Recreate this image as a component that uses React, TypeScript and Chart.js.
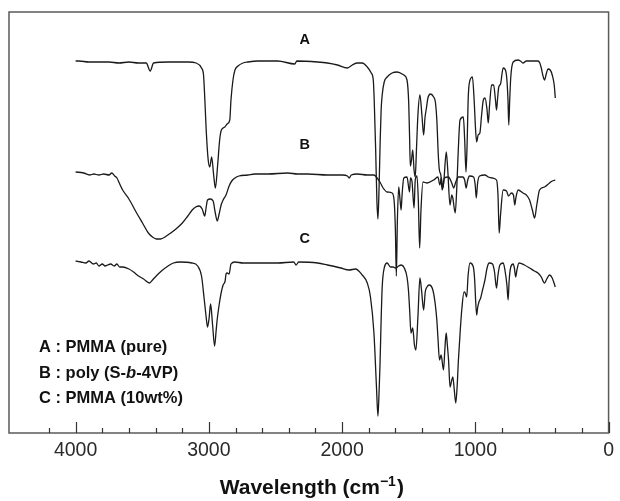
import React, { useEffect, useRef } from 'react';
import { Chart, registerables } from 'chart.js';

Chart.register(...registerables);

// ---- Data (wavenumber in cm-1, offset transmittance in arbitrary units) ----
const A_WN = [4000, 3975, 3900, 3825, 3750, 3675, 3600, 3530, 3470, 3440,
  3415, 3305, 3155, 3095, 3055, 3040, 3030, 3020, 3005, 2993,
  2979, 2964, 2951, 2934, 2919, 2906, 2880, 2863, 2843, 2834,
  2819, 2804, 2781, 2744, 2707, 2632, 2483, 2355, 2340, 2184,
  2110, 2035, 1960, 1923, 1886, 1849, 1811, 1781, 1766, 1759,
  1748, 1739, 1731, 1723, 1714, 1707, 1699, 1684, 1662, 1625,
  1587, 1537, 1513, 1500, 1493, 1488, 1479, 1470, 1460, 1451,
  1442, 1431, 1416, 1401, 1388, 1378, 1367, 1356, 1337, 1313,
  1300, 1289, 1278, 1270, 1259, 1249, 1237, 1218, 1207, 1190,
  1177, 1169, 1151, 1140, 1128, 1115, 1090, 1080, 1070, 1061,
  1054, 1045, 1022, 1009, 998, 990, 979, 966, 953, 940,
  927, 912, 903, 893, 878, 863, 849, 841, 834, 824,
  811, 791, 774, 763, 755, 749, 742, 734, 716, 679,
  662, 642, 617, 580, 530, 516, 505, 494, 481, 468,
  455, 438, 423, 408, 400];
const A_T = [372, 372, 371, 371, 371, 370, 371, 370, 370, 362,
  370, 371, 371, 370, 365, 358, 333, 303, 273, 266,
  276, 258, 245, 268, 293, 303, 306, 309, 313, 333,
  353, 363, 367, 370, 371, 372, 372, 369, 372, 371,
  370, 368, 365, 368, 370, 370, 366, 360, 353, 333,
  283, 233, 214, 243, 293, 323, 338, 351, 356, 360,
  361, 358, 353, 330, 293, 267, 273, 283, 263, 256,
  283, 318, 338, 318, 298, 315, 325, 335, 339, 336,
  331, 313, 278, 263, 258, 243, 251, 281, 263, 228,
  238, 235, 220, 243, 283, 313, 316, 293, 261, 293,
  333, 350, 356, 333, 303, 291, 298, 300, 318, 333,
  335, 323, 310, 328, 348, 348, 333, 323, 333, 346,
  349, 365, 363, 353, 333, 308, 333, 356, 371, 373,
  372, 370, 372, 372, 372, 370, 365, 358, 353, 359,
  364, 363, 358, 348, 335];

const B_WN = [4000, 3940, 3895, 3863, 3825, 3789, 3749, 3729, 3707, 3690,
  3669, 3647, 3600, 3542, 3498, 3454, 3423, 3395, 3363, 3319,
  3247, 3199, 3158, 3125, 3099, 3072, 3050, 3031, 3020, 3010,
  2990, 2968, 2953, 2937, 2923, 2908, 2893, 2871, 2848, 2828,
  2804, 2774, 2707, 2656, 2557, 2408, 2334, 2259, 2110, 1998,
  1960, 1947, 1931, 1886, 1811, 1761, 1737, 1712, 1692, 1662,
  1625, 1610, 1600, 1593, 1585, 1575, 1565, 1557, 1550, 1537,
  1513, 1494, 1487, 1475, 1460, 1451, 1438, 1428, 1418, 1408,
  1393, 1363, 1313, 1281, 1266, 1255, 1244, 1233, 1202, 1177,
  1162, 1147, 1127, 1095, 1080, 1069, 1057, 1043, 1013, 1001,
  993, 983, 968, 928, 903, 871, 841, 830, 821, 811,
  791, 766, 751, 729, 714, 704, 696, 679, 642, 617,
  593, 572, 555, 539, 518, 481, 443, 423, 400];
const B_T = [261, 260, 258, 259, 258, 259, 258, 260, 257, 255,
  249, 243, 234, 220, 210, 200, 196, 194, 194, 197,
  204, 210, 217, 223, 226, 227, 224, 217, 226, 233,
  234, 232, 221, 212, 219, 228, 233, 238, 247, 252,
  255, 257, 258, 259, 259, 260, 259, 259, 258, 258,
  257, 255, 258, 259, 258, 258, 255, 250, 245, 241,
  240, 233, 203, 157, 213, 246, 233, 223, 238, 255,
  256, 241, 255, 251, 225, 253, 257, 233, 185, 223,
  251, 250, 253, 256, 248, 255, 245, 255, 256, 250,
  245, 251, 256, 256, 253, 245, 253, 257, 256, 248,
  235, 250, 257, 258, 256, 255, 253, 238, 200, 218,
  243, 242, 237, 240, 238, 228, 235, 243, 240, 238,
  233, 223, 215, 228, 243, 246, 250, 252, 253];

const C_WN = [4000, 3960, 3923, 3900, 3867, 3845, 3825, 3800, 3778, 3760,
  3737, 3710, 3690, 3670, 3647, 3600, 3565, 3528, 3490, 3445,
  3423, 3395, 3356, 3306, 3266, 3217, 3129, 3084, 3055, 3035,
  3022, 3010, 2998, 2987, 2972, 2957, 2945, 2937, 2923, 2908,
  2893, 2878, 2871, 2863, 2848, 2834, 2804, 2744, 2632, 2483,
  2363, 2345, 2326, 2184, 2110, 2010, 1948, 1899, 1849, 1811,
  1787, 1761, 1742, 1731, 1722, 1716, 1707, 1699, 1682, 1662,
  1637, 1617, 1600, 1575, 1557, 1533, 1513, 1502, 1493, 1483,
  1470, 1457, 1446, 1431, 1416, 1404, 1388, 1376, 1363, 1346,
  1319, 1302, 1289, 1281, 1269, 1257, 1239, 1229, 1219, 1210,
  1201, 1190, 1177, 1169, 1158, 1147, 1136, 1127, 1113, 1102,
  1085, 1076, 1065, 1054, 1040, 1015, 1005, 998, 990, 983,
  973, 960, 946, 928, 912, 896, 871, 856, 841, 830,
  816, 791, 778, 763, 754, 746, 734, 716, 707, 697,
  688, 672, 632, 593, 557, 530, 505, 481, 464, 443,
  423, 400];
const C_T = [172, 171, 170, 172, 169, 170, 167, 169, 167, 168,
  169, 167, 169, 166, 166, 164, 161, 157, 154, 150,
  153, 157, 162, 167, 170, 171, 170, 167, 157, 134,
  118, 106, 115, 129, 108, 87, 103, 114, 128, 140,
  148, 152, 159, 160, 159, 169, 171, 170, 170, 170,
  171, 168, 171, 170, 168, 165, 163, 164, 158, 150,
  136, 100, 46, 17, 43, 66, 113, 146, 166, 170,
  166, 166, 165, 167, 168, 165, 156, 143, 123, 100,
  105, 88, 83, 116, 155, 143, 123, 141, 146, 148,
  143, 130, 113, 96, 73, 78, 63, 83, 100, 88,
  73, 46, 53, 56, 43, 30, 48, 73, 103, 123,
  141, 140, 136, 158, 170, 166, 153, 133, 118, 125,
  131, 135, 143, 153, 165, 170, 169, 161, 145, 158,
  168, 170, 163, 148, 133, 153, 166, 169, 165, 156,
  163, 170, 168, 165, 162, 160, 156, 150, 154, 158,
  155, 146];

const SERIES_NAMES = ['A', 'B', 'C'];
const SERIES_LABEL_WN = 2280;
const SERIES_LABEL_T = [393, 288, 194];

const LEGEND_LINES: [string, boolean][][] = [
  [['A : PMMA (pure)', false]],
  [['B : poly (S-', false], ['b', true], ['-4VP)', false]],
  [['C : PMMA (10wt%)', false]],
];

const X_MIN = 0;
const X_MAX = 4500;
const X_MINOR_STEP = 200;
const X_MAJOR_STEP = 1000;
const Y_MIN = 0;
const Y_MAX = 421;

const TITLE_MAIN = 'Wavelength (cm';
const TITLE_SUP = '\u22121';
const TITLE_END = ')';

const FONT = '"Liberation Sans", Arial, Helvetica, sans-serif';
const LINE_COLOR = '#1a1a1a';
const FRAME_COLOR = '#5a5a5a';

function zip(wn: number[], t: number[]) {
  const n = Math.min(wn.length, t.length);
  const out: { x: number; y: number }[] = [];
  for (let i = 0; i < n; i++) out.push({ x: wn[i], y: t[i] });
  return out;
}

const overlayPlugin = {
  id: 'overlay',
  afterDraw(chart: any) {
    const { ctx, chartArea, scales } = chart;
    const xs = scales.x;
    const ys = scales.y;
    ctx.save();
    // frame
    ctx.strokeStyle = FRAME_COLOR;
    ctx.lineWidth = 1.5;
    ctx.strokeRect(chartArea.left, chartArea.top, chartArea.right - chartArea.left, chartArea.bottom - chartArea.top);
    // inward tick marks
    ctx.beginPath();
    for (const t of xs.ticks) {
      const v = t.value;
      if (v % X_MINOR_STEP !== 0) continue;
      const px = Math.round(xs.getPixelForValue(v)) + 0.5;
      const len = v % X_MAJOR_STEP === 0 ? 11 : 5;
      ctx.moveTo(px, chartArea.bottom);
      ctx.lineTo(px, chartArea.bottom - len);
    }
    ctx.lineWidth = 1.2;
    ctx.strokeStyle = '#333';
    ctx.stroke();
    // series labels
    ctx.fillStyle = '#111';
    ctx.font = `bold 14.5px ${FONT}`;
    ctx.textAlign = 'center';
    ctx.textBaseline = 'middle';
    SERIES_NAMES.forEach((n, i) => {
      ctx.fillText(n, xs.getPixelForValue(SERIES_LABEL_WN), ys.getPixelForValue(SERIES_LABEL_T[i]));
    });
    // legend text
    ctx.textAlign = 'left';
    const legendY = [335, 361.5, 386.5];
    LEGEND_LINES.forEach((segs, i) => {
      let x = chartArea.left + 30;
      const y = chartArea.top + legendY[i];
      segs.forEach(([txt, italic]) => {
        ctx.font = `${italic ? 'italic ' : ''}bold 16.5px ${FONT}`;
        ctx.fillText(txt, x, y);
        x += ctx.measureText(txt).width;
      });
    });
    // axis title with superscript
    ctx.fillStyle = '#111';
    ctx.textBaseline = 'alphabetic';
    const mainFont = `bold 21px ${FONT}`;
    const supFont = `bold 14px ${FONT}`;
    ctx.font = mainFont;
    const w1 = ctx.measureText(TITLE_MAIN).width;
    const w3 = ctx.measureText(TITLE_END).width;
    ctx.font = supFont;
    const w2 = ctx.measureText(TITLE_SUP).width;
    const total = w1 + w2 + w3 + 1;
    let tx = (chartArea.left + chartArea.right) / 2 + 3 - total / 2;
    const ty = chart.height - 7;
    ctx.font = mainFont;
    ctx.fillText(TITLE_MAIN, tx, ty);
    tx += w1;
    ctx.font = supFont;
    ctx.fillText(TITLE_SUP, tx, ty - 8);
    tx += w2 + 1;
    ctx.font = mainFont;
    ctx.fillText(TITLE_END, tx, ty);
    ctx.restore();
  },
};

export default function App() {
  const ref = useRef<HTMLCanvasElement | null>(null);
  useEffect(() => {
    if (!ref.current) return;
    const mk = (label: string, wn: number[], t: number[]) => ({
      label,
      data: zip(wn, t),
      showLine: true,
      borderColor: LINE_COLOR,
      borderWidth: 1.3,
      pointRadius: 0,
      cubicInterpolationMode: 'monotone' as const,
      fill: false,
    });
    const chart = new Chart(ref.current, {
      type: 'scatter',
      data: {
        datasets: [mk('A', A_WN, A_T), mk('B', B_WN, B_T), mk('C', C_WN, C_T)],
      },
      options: {
        animation: false,
        responsive: false,
        devicePixelRatio: 1,
        layout: { padding: { left: 9, right: 7, top: 12, bottom: 0 } },
        plugins: { legend: { display: false }, tooltip: { enabled: false }, title: { display: false } },
        scales: {
          x: {
            type: 'linear',
            reverse: true,
            min: X_MIN,
            max: X_MAX,
            position: 'bottom',
            border: { display: false },
            grid: { display: false, drawTicks: false },
            ticks: {
              stepSize: X_MINOR_STEP,
              autoSkip: false,
              maxRotation: 0,
              minRotation: 0,
              padding: 6,
              color: '#2a2a2a',
              font: { family: FONT, size: 19.5 },
              callback: (v: any) => (Number(v) % X_MAJOR_STEP === 0 ? String(v) : ''),
            },
            afterFit: (scale: any) => {
              scale.height = 68;
            },
          },
          y: {
            type: 'linear',
            display: false,
            min: Y_MIN,
            max: Y_MAX,
          },
        },
      },
      plugins: [overlayPlugin],
    });
    return () => chart.destroy();
  }, []);
  return (
    <div style={{ position: 'fixed', left: 0, top: 0, width: 620, height: 501, background: '#fff' }}>
      <canvas ref={ref} width={620} height={501} style={{ display: 'block', width: 620, height: 501 }} />
    </div>
  );
}
